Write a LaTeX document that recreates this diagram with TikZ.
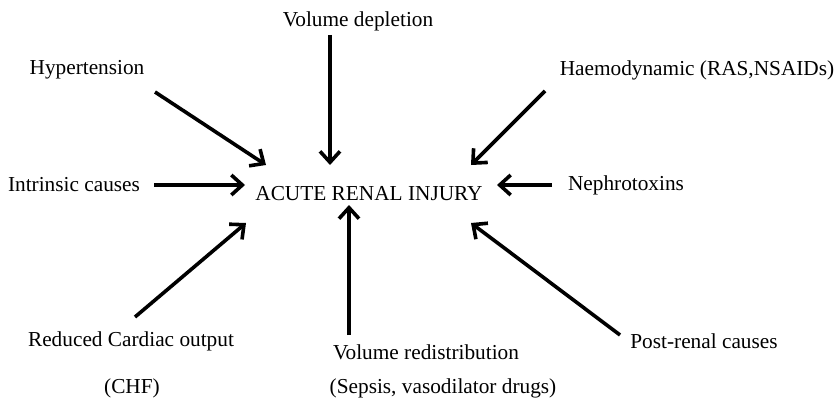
\documentclass[tikz,border=0pt]{standalone}
\usepackage{fontspec}
\setmainfont{Liberation Serif}
\usetikzlibrary{arrows.meta}
\tikzset{
  causetext/.style={inner sep=0pt, font=\fontsize{21.3}{24}\selectfont},
  causearrow/.style={line width=3.6pt, -{Straight Barb[length=11pt,width=20pt,line width=3.6pt]}}
}

\begin{document}
\begin{tikzpicture}[x=1pt,y=-1pt]
\useasboundingbox (0,0) rectangle (835,401);

\node[causetext] (injury) at (369,194) {ACUTE RENAL INJURY};

\node[causetext] (depletion) at (358,21) {Volume depletion};
\node[causetext] (hyper) at (87,70) {Hypertension};
\node[causetext] (haemo) at (697,70) {Haemodynamic (RAS,NSAIDs)};
\node[causetext] (intrinsic) at (74,185) {Intrinsic causes};
\node[causetext] (nephro) at (626,185) {Nephrotoxins};
\node[causetext] (cardiac) at (131,341) {Reduced Cardiac output};
\node[causetext] (chf) at (132,388) {(CHF)};
\node[causetext] (redist) at (426,352) {Volume redistribution};
\node[causetext] (sepsis) at (443,388) {(Sepsis, vasodilator drugs)};
\node[causetext] (postrenal) at (704,341) {Post-renal causes};

% arrow ends
\coordinate (depletion-s) at (330,35);   \coordinate (depletion-e) at (330,165);
\coordinate (hyper-s) at (155,92);       \coordinate (hyper-e) at (266,165);
\coordinate (haemo-s) at (545,91);       \coordinate (haemo-e) at (471,165);
\coordinate (intrinsic-s) at (154,185);  \coordinate (intrinsic-e) at (245,185);
\coordinate (nephro-s) at (552,185);     \coordinate (nephro-e) at (497,185);
\coordinate (cardiac-s) at (135,317);    \coordinate (cardiac-e) at (246,223);
\coordinate (redist-s) at (349,335);     \coordinate (redist-e) at (349,205);
\coordinate (postrenal-s) at (620,335);  \coordinate (postrenal-e) at (471,223);

\foreach \c in {depletion,hyper,haemo,intrinsic,nephro,cardiac,redist,postrenal}
  \draw[causearrow] (\c-s) -- (\c-e);

\end{tikzpicture}
\end{document}
